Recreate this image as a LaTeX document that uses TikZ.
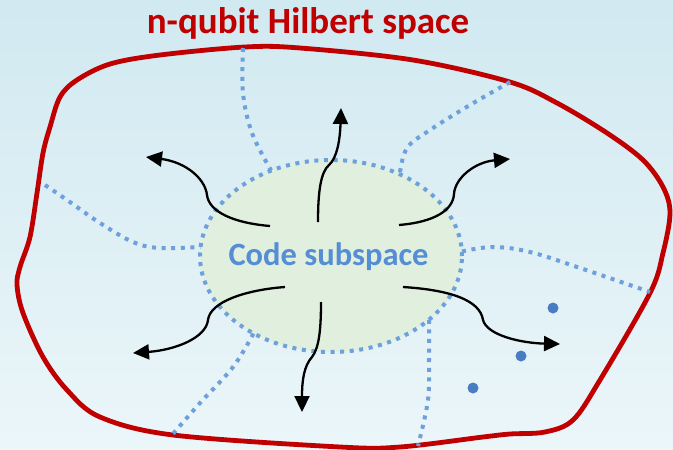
\documentclass[tikz,border=0pt]{standalone}
\usepackage{fontspec}
\setmainfont{Carlito}
\usetikzlibrary{arrows.meta,shapes.geometric}

\definecolor{hilbertred}{RGB}{192,0,0}
\definecolor{dotblue}{RGB}{110,160,220}
\definecolor{codeblue}{RGB}{85,142,213}
\definecolor{pointblue}{RGB}{72,125,195}
\definecolor{codefill}{RGB}{224,239,222}
\definecolor{bgtop}{RGB}{209,233,241}
\definecolor{bgbottom}{RGB}{235,246,249}

\begin{document}
\begin{tikzpicture}[x=1pt,y=-1pt,
  boundary/.style={draw=hilbertred,line width=4.8pt,line join=round},
  sector/.style={draw=dotblue,line width=4pt,dash pattern=on 4pt off 5.6pt},
  flow/.style={draw=black,line width=2.3pt,-{Triangle[length=16pt,width=15pt]}},
  point/.style={circle,fill=pointblue,inner sep=0pt,minimum size=11pt},
  titletext/.style={text=hilbertred,font=\bfseries\fontsize{37}{37}\selectfont,anchor=base},
  codetext/.style={text=codeblue,font=\bfseries\fontsize{32.5}{32.5}\selectfont,anchor=base},
]
\useasboundingbox (0,0) rectangle (673,450);
\fill[top color=bgtop,bottom color=bgbottom] (0,0) rectangle (673,450);

% the full state space
\draw[boundary] plot[smooth cycle,tension=0.55] coordinates {
  (245,47) (300,48) (413,60) (510,82) (557,103) (607,133) (643,160)
  (663,187) (670,213) (663,253) (650,293) (600,380) (573,420) (545,432)
  (510,434) (483,437) (400,447) (340,447) (173,435) (100,417) (67,390)
  (43,357) (23,313) (17,285) (20,267) (30,237) (37,193) (43,153)
  (50,127) (60,97) (77,80) (110,64) (160,55)};

\node[titletext] (title) at (308,33) {n-qubit Hilbert space};

% code subspace
\node[ellipse,fill=codefill,minimum width=262pt,minimum height=192pt,inner sep=0pt] (code) at (331,256) {};

% points where the sector borders meet the outer boundary
\coordinate (bTop) at (243,48);
\coordinate (bTopRight) at (510,82);
\coordinate (bLeft) at (45,185);
\coordinate (bRight) at (650,292);
\coordinate (bBotLeft) at (172,435);
\coordinate (bBotRight) at (418,446);

% sector borders
\draw[sector] plot[smooth,tension=0.6] coordinates {(bTop) (243,93) (252,133) (code.125)};
\draw[sector] plot[smooth,tension=0.6] coordinates {(bTopRight) (470,105) (430,130) (407,148) (code.50)};
\draw[sector] plot[smooth,tension=0.6] coordinates {(bLeft) (67,200) (100,223) (133,242) (160,248) (code.176)};
\draw[sector] plot[smooth,tension=0.6] coordinates {(code.2) (493,247) (530,252) (580,268) (bRight)};
\draw[sector] plot[smooth,tension=0.6] coordinates {(code.225) (233,367) (200,403) (bBotLeft)};
\draw[sector] plot[smooth,tension=0.6] coordinates {(code.-33) (429,360) (428,400) (bBotRight)};

\draw[sector] (code.center) ellipse[x radius=131pt,y radius=96pt];

\node[codetext] (codelabel) at (328.5,265) {Code subspace};

% error arrows leaving the code subspace
\coordinate (aUpS) at (318,222);   \coordinate (aUpE) at (341,108);
\coordinate (aULS) at (270,226);   \coordinate (aULE) at (146,157);
\coordinate (aURS) at (399,225);   \coordinate (aURE) at (510,159);
\coordinate (aLLS) at (285,287);   \coordinate (aLLE) at (133,353);
\coordinate (aDnS) at (321,302);   \coordinate (aDnE) at (302,412);
\coordinate (aLRS) at (403,287);   \coordinate (aLRE) at (560,344);

\draw[flow] (aUpS) .. controls (318,190) and (321,172) .. (329,165)
                   .. controls (337,158) and (340,140) .. (aUpE);
\draw[flow] (aULS) .. controls (234,223) and (209,212) .. (207,195)
                   .. controls (205,178) and (185,162) .. (aULE);
\draw[flow] (aURS) .. controls (435,222) and (453,210) .. (454,194)
                   .. controls (455,178) and (475,162) .. (aURE);
\draw[flow] (aLLS) .. controls (245,290) and (210,302) .. (208,320)
                   .. controls (206,338) and (175,350) .. (aLLE);
\draw[flow] (aDnS) .. controls (321,330) and (319,348) .. (312,357)
                   .. controls (304,366) and (302,380) .. (aDnE);
\draw[flow] (aLRS) .. controls (450,290) and (480,300) .. (483,320)
                   .. controls (487,335) and (520,343) .. (aLRE);

% uncorrectable states
\node[point] (p1) at (553,308) {};
\node[point] (p2) at (521,356) {};
\node[point] (p3) at (473,388) {};
\end{tikzpicture}
\end{document}
